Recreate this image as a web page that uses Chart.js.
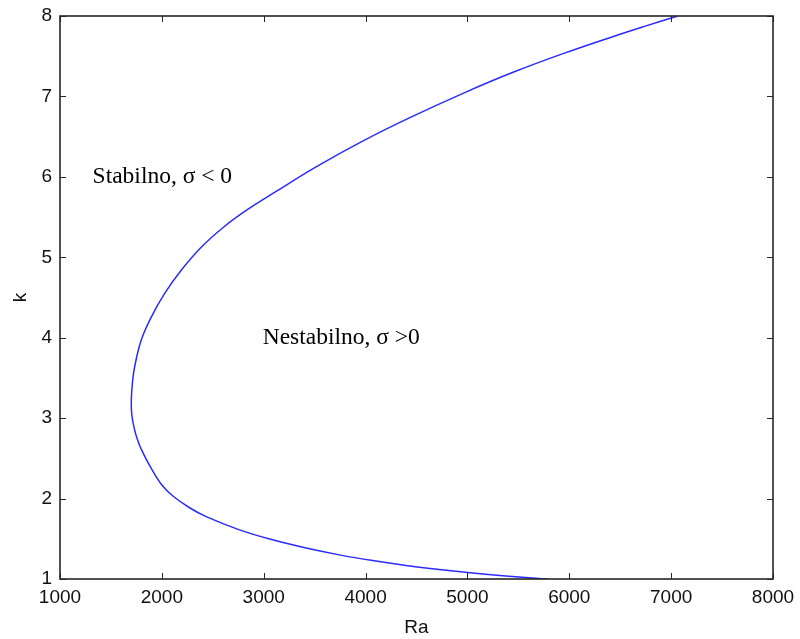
<html>
 <head>
   <meta charset="utf-8" />
   <title>Ra - k</title>
   <style>
     body { margin: 0; background: #fff; }
     #wrap { width: 800px; height: 639px; }
   </style>
 </head>
 <body>
<div id="wrap">
  <canvas id="ra_chart" width="800" height="639"></canvas>
</div>

<script src="https://cdn.jsdelivr.net/npm/chart.js"></script>
<script>

// values, ordered along the curve (k going up)
listK  = [1.0, 1.006, 1.037, 1.074, 1.118, 1.169, 1.229, 1.300, 1.385, 1.487, 1.611, 1.776, 1.886, 2.032, 2.178, 2.406, 2.635, 2.718, 2.850, 3.051, 3.259, 3.450, 3.633, 3.966, 4.257, 4.549, 4.839, 5.130, 5.380, 5.588, 5.809, 6.121, 6.453, 6.745, 7.057, 7.306, 7.535, 7.743, 7.868, 8.0];
listRa = [5790, 5703, 5376, 5049, 4723, 4396, 4069, 3742, 3416, 3088, 2762, 2435, 2272, 2108, 1994, 1882, 1790, 1765, 1733, 1704, 1701, 1712, 1732, 1796, 1896, 2026, 2190, 2391, 2611, 2835, 3110, 3510, 3985, 4450, 4990, 5460, 5945, 6425, 6730, 7065];

xTicks = [1000, 2000, 3000, 4000, 5000, 6000, 7000, 8000];
yTicks = [1, 2, 3, 4, 5, 6, 7, 8];

labelText = ['Stabilno, \u03c3 < 0', 'Nestabilno, \u03c3 >0'];
labelRa   = [1320, 2990];
labelK    = [6.0, 4.0];

var points = [];
for (var i = 0; i < listK.length; i++) {
  points.push({x: listRa[i], y: listK[i]});
}

// matlab style box with inward ticks + the two region labels
var boxPlugin = {
  id: 'box',
  afterDatasetsDraw: function(chart) {
    var c = chart.ctx, a = chart.chartArea;
    var sx = chart.scales.x, sy = chart.scales.y;
    c.save();
    c.strokeStyle = '#262626';
    c.lineWidth = 1;
    c.beginPath();
    xTicks.forEach(function(v) {
      var px = Math.round(sx.getPixelForValue(v)) + 0.5;
      c.moveTo(px, a.bottom); c.lineTo(px, a.bottom - 6);
      c.moveTo(px, a.top); c.lineTo(px, a.top + 6);
    });
    yTicks.forEach(function(v) {
      var py = Math.round(sy.getPixelForValue(v)) + 0.5;
      c.moveTo(a.left, py); c.lineTo(a.left + 6, py);
      c.moveTo(a.right, py); c.lineTo(a.right - 6, py);
    });
    c.stroke();
    c.lineWidth = 1.6;
    c.strokeRect(a.left, a.top, a.right - a.left, a.bottom - a.top);

    c.fillStyle = '#000';
    c.font = '23.5px "Liberation Serif", "Times New Roman", serif';
    c.textBaseline = 'middle';
    c.textAlign = 'left';
    for (var i = 0; i < labelText.length; i++) {
      c.fillText(labelText[i], sx.getPixelForValue(labelRa[i]), sy.getPixelForValue(labelK[i]));
    }
    c.restore();
  }
};

var tickFont = { family: '"Liberation Sans", Arial, sans-serif', size: 19 };

var ctx = document.getElementById('ra_chart');
var ra_chart = new Chart(ctx, {
  type: 'scatter',
  data: {
    datasets: [{
      data: points,
      showLine: true,
      borderColor: '#2b2bff',
      borderWidth: 1.5,
      pointRadius: 0,
      tension: 0.4,
      fill: false
    }]
  },
  options: {
    responsive: false,
    animation: false,
    layout: { padding: { top: 16, right: 27, left: 0, bottom: 0 } },
    plugins: { legend: { display: false }, tooltip: { enabled: false } },
    scales: {
      x: {
        type: 'linear',
        min: 1000, max: 8000,
        afterFit: function(s) { s.height = 60; s.paddingLeft = 0; s.paddingRight = 0; },
        afterBuildTicks: function(s) { s.ticks = xTicks.map(function(v) { return {value: v}; }); },
        grid: { display: false, drawTicks: false },
        border: { display: false },
        ticks: { color: '#111', font: tickFont, padding: 7, maxRotation: 0, autoSkip: false,
                 callback: function(v) { return String(v); } },
        title: { display: true, text: 'Ra', color: '#111', font: tickFont, padding: { top: 0, bottom: 0 } }
      },
      y: {
        type: 'linear',
        min: 1, max: 8,
        afterFit: function(s) { s.width = 60; s.paddingTop = 0; s.paddingBottom = 0; },
        afterBuildTicks: function(s) { s.ticks = yTicks.map(function(v) { return {value: v}; }); },
        grid: { display: false, drawTicks: false },
        border: { display: false },
        ticks: { color: '#111', font: tickFont, padding: 8, autoSkip: false,
                 callback: function(v) { return String(v); } },
        title: { display: true, text: 'k', color: '#111', font: tickFont, padding: { top: 9, bottom: 0 } }
      }
    }
  },
  plugins: [boxPlugin]
});

</script>
</body>
</html>
